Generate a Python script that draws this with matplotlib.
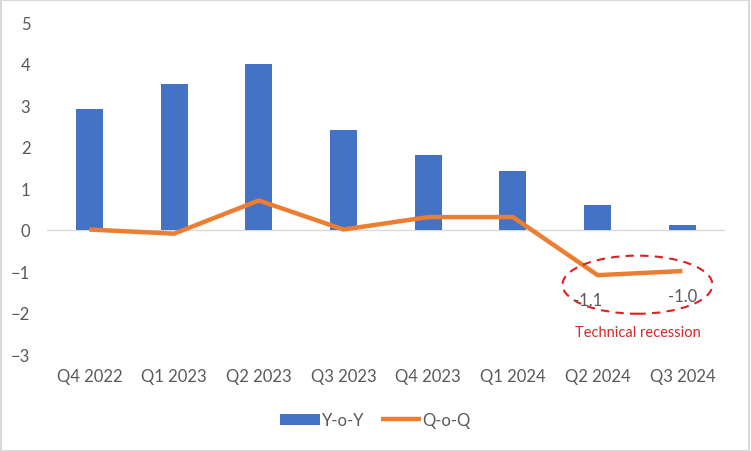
import matplotlib.pyplot as plt
from matplotlib.patches import Ellipse
import numpy as np

quarters = ["Q4 2022", "Q1 2023", "Q2 2023", "Q3 2023", "Q4 2023", "Q1 2024", "Q2 2024", "Q3 2024"]
yoy = [2.9, 3.5, 4.0, 2.4, 1.8, 1.4, 0.6, 0.1]
qoq = [0.0, -0.1, 0.7, 0.0, 0.3, 0.3, -1.1, -1.0]

plt.rcParams['font.family'] = ['Lato', 'DejaVu Sans']
txt = '#595959'

fig = plt.figure(figsize=(7.51, 4.52), dpi=100)
ax = fig.add_axes([0.0626, 0.2146, 0.9024, 0.7344])
x = np.arange(len(quarters))

ax.axhline(0, color='#d9d9d9', lw=1, zorder=1)
bars = ax.bar(x, yoy, width=0.32, color='#4472C4', label='Y-o-Y', zorder=2)
line, = ax.plot(x, qoq, color='#ED7D31', lw=3.2, label='Q-o-Q', zorder=3, solid_capstyle='butt')

# data labels for the two negative quarters
for i, dx in ((6, -7), (7, 0)):
    ax.annotate(f"{qoq[i]:.1f}", (x[i], qoq[i]), xytext=(dx, -12), textcoords='offset points',
                ha='center', va='top', fontsize=12, color=txt, zorder=6)

ax.add_patch(Ellipse((6.47, -1.33), 1.77, 1.4, fill=False, ec='#e02020', lw=1.5, ls=(0, (4, 3)), zorder=4))
ax.text(6.47, -2.48, "Technical recession", ha='center', va='center', fontsize=10.5, color='#d9262c')

ax.set_xlim(-0.5, len(quarters) - 0.5)
ax.set_ylim(-3, 5)
ax.set_yticks(range(-3, 6))
ax.set_xticks(x)
ax.set_xticklabels(quarters)
ax.tick_params(length=0, labelsize=12, colors=txt)
ax.tick_params(axis='y', pad=12)
ax.tick_params(axis='x', pad=10)
for s in ax.spines.values():
    s.set_visible(False)

fig.legend([bars, line], ['Y-o-Y', 'Q-o-Q'], loc='center', bbox_to_anchor=(0.5, 0.068), ncol=2, frameon=False,
           fontsize=12, labelcolor=txt, handlelength=2.4, handletextpad=0.1, columnspacing=1.0)

fig.patches.append(plt.Rectangle((0.001, 0.001), 0.997, 0.997, transform=fig.transFigure,
                                 fill=False, ec='#d9d9d9', lw=1.5))
fig.savefig('out.png', dpi=100)
